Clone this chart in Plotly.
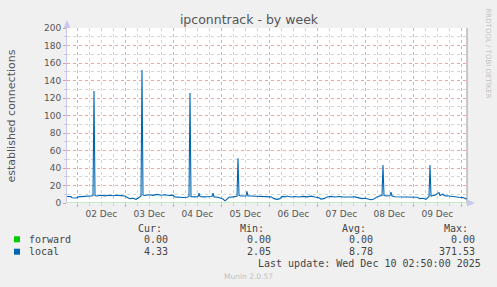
import pandas as pd
import plotly.graph_objects as go

# ---- data ----
start = pd.Timestamp("2025-12-01 18:50")
end = pd.Timestamp("2025-12-10 02:50")

local_hours = [0, 2, 2.5, 5, 5.5, 8.5, 9.5, 11.5, 12.5, 13, 13.5, 14, 15, 17, 19, 21, 23, 25, 27, 29,
               30, 31.5, 33, 34.5, 35.5, 36.5, 37, 37.5, 38, 39, 41, 43, 45, 47, 49, 51, 53,
               54, 56, 58, 60, 61, 61.5, 62, 64, 65.5, 66, 66.5, 68, 70, 72.5, 73, 73.5, 75.5, 77,
               78, 79, 80, 81, 83, 85, 85.5, 86, 87, 89.5, 90, 90.5, 92, 95, 99,
               102, 103.5, 105, 106.5, 107.5, 109, 110, 112, 114, 116, 118, 120, 122, 124, 126, 127,
               128.5, 130, 132, 134, 136, 138, 140, 142, 144, 146, 147.5, 149, 150.5, 152, 153.5,
               155, 156.5, 157.5, 158, 158.5, 160, 161.5, 162, 162.5, 164, 168, 172, 175, 176.5,
               178, 179.5, 180.5, 181, 181.5, 182, 183, 184, 186, 186.5, 188, 189, 190, 192, 194,
               196, 198, 200]
local_vals = [7.5, 7.3, 6.0, 5.8, 7.0, 7.2, 7.8, 7.4, 8.0, 8.2, 128, 8.5, 8.0, 8.8, 8.2, 8.9, 8.3, 8.8, 8.4, 8.0,
              6.5, 5.0, 5.5, 4.2, 5.5, 7.5, 8.0, 152, 9.0, 8.5, 9.5, 8.7, 9.8, 8.9, 9.4, 8.5, 9.0,
              7.0, 6.5, 6.3, 6.5, 7.5, 125.7, 7.2, 7.0, 7.5, 11.4, 7.5, 7.0, 7.6, 7.5, 11.4, 7.0, 6.5, 5.8,
              4.5, 2.5, 5.0, 6.5, 7.0, 7.8, 51, 8.8, 8.0, 8.0, 13.4, 8.0, 8.0, 7.8, 7.4,
              7.0, 5.0, 4.2, 5.0, 7.5, 7.0, 8.0, 6.8, 7.5, 6.8, 7.6, 7.0, 7.8, 6.8, 6.0, 4.5,
              5.0, 6.8, 7.6, 6.9, 7.5, 6.8, 7.2, 6.8, 7.0, 6.0, 5.0, 5.5, 4.5, 3.8, 4.5,
              7.0, 8.2, 8.5, 43.4, 8.5, 8.0, 8.5, 12.5, 8.0, 7.2, 6.8, 7.0, 6.5, 5.0,
              5.5, 4.2, 6.0, 7.5, 43.4, 8.0, 8.5, 9.0, 12.0, 8.5, 10.0, 8.0, 8.3, 7.5, 7.2,
              6.5, 6.2, 4.33]
forward_hours = [0, 200]
forward_vals = [0, 0]

day_labels = ["02 Dec", "03 Dec", "04 Dec", "05 Dec", "06 Dec", "07 Dec", "08 Dec", "09 Dec"]
day_noons = pd.date_range("2025-12-02 12:00", periods=len(day_labels), freq="D")

series_names = ["forward", "local"]
series_colors = ["#00CC00", "#0066B3"]
stat_headers = ["Cur:", "Min:", "Avg:", "Max:"]
stat_values = [["0.00", "0.00", "0.00", "0.00"],
               ["4.33", "2.05", "8.78", "371.53"]]
last_update = "Last update: Wed Dec 10 02:50:00 2025"

# ---- figure ----
W, H = 497, 287
L, R, T, B = 67, 467, 28, 203


def px(x):
    return (x - L) / (R - L)


def py(y):
    return (B - y) / (B - T)


local_t = [start + pd.Timedelta(hours=h) for h in local_hours]
forward_t = [start + pd.Timedelta(hours=h) for h in forward_hours]

fig = go.Figure()
fig.add_trace(go.Scatter(x=forward_t, y=forward_vals, mode="lines",
                         line=dict(color="rgba(0,175,0,0.45)", width=1.2), hoverinfo="skip"))
fig.add_trace(go.Scatter(x=local_t, y=local_vals, mode="lines",
                         line=dict(color=series_colors[1], width=1.1), hoverinfo="skip"))
# invisible trace for the label axis
fig.add_trace(go.Scatter(x=[start, end], y=[None, None], xaxis="x2", showlegend=False, hoverinfo="skip"))

red_grid = "rgba(225,90,90,0.55)"
gray_grid = "#d4d4d4"

fig.update_layout(
    width=W, height=H,
    margin=dict(l=L, r=W - R, t=T, b=H - B),
    paper_bgcolor="#F0F0F0", plot_bgcolor="#FFFFFF",
    showlegend=False,
    font=dict(family="DejaVu Sans", color="#555555", size=9),
    title=dict(text="ipconntrack - by week", x=249 / W, xanchor="center",
               y=1 - 19.5 / H, yanchor="middle", yref="container", xref="container",
               font=dict(family="DejaVu Sans", size=12.5, color="#555555")),
    xaxis=dict(type="date", range=[start, end], tickmode="linear",
               tick0="2025-12-02", dtick=86400000, showticklabels=False,
               showgrid=True, gridcolor=red_grid, griddash="dot", gridwidth=1,
               ticks="outside", ticklen=3, tickcolor=red_grid,
               minor=dict(tick0="2025-12-02", dtick=6 * 3600 * 1000, showgrid=True,
                          gridcolor=gray_grid, griddash="dot", gridwidth=1,
                          ticks="outside", ticklen=2, tickcolor="#cccccc"),
               showline=False, zeroline=False, fixedrange=True),
    xaxis2=dict(type="date", range=[start, end], overlaying="x", side="bottom",
                tickmode="array", tickvals=list(day_noons), ticktext=day_labels,
                showgrid=False, ticks="", showline=False, zeroline=False,
                tickfont=dict(size=9, color="#555555"), ticklabelstandoff=4),
    yaxis=dict(range=[0, 200], tickmode="linear", tick0=0, dtick=20,
               showgrid=True, gridcolor=red_grid, griddash="dot", gridwidth=1,
               ticks="outside", ticklen=3, tickcolor=red_grid,
               minor=dict(dtick=10, showgrid=True, gridcolor=gray_grid, griddash="dot",
                          gridwidth=1, ticks="outside", ticklen=2, tickcolor="#cccccc"),
               showline=True, linecolor="#C8C8F0", linewidth=1,
               zeroline=False, tickfont=dict(size=9, color="#555555"), fixedrange=True),
)

shapes = []
# right border line
shapes.append(dict(type="line", xref="paper", yref="paper", x0=1, x1=1, y0=0, y1=1,
                   line=dict(color="#999999", width=1)))
# axis arrows
shapes.append(dict(type="path", xref="paper", yref="paper",
                   path=f"M {px(63.5)} {py(28)} L {px(70.5)} {py(28)} L {px(67)} {py(20)} Z",
                   fillcolor="#C8C8F0", line=dict(width=0)))
shapes.append(dict(type="path", xref="paper", yref="paper",
                   path=f"M {px(467)} {py(199.5)} L {px(467)} {py(206.5)} L {px(475)} {py(203)} Z",
                   fillcolor="#C8C8F0", line=dict(width=0)))
# legend squares
row_y = [239.3, 251.7]
for c, ry in zip(series_colors, row_y):
    shapes.append(dict(type="rect", xref="paper", yref="paper",
                       x0=px(14), x1=px(20), y0=py(ry + 3), y1=py(ry - 3),
                       fillcolor=c, line=dict(width=0)))
fig.update_layout(shapes=shapes)

mono = dict(family="DejaVu Sans Mono", size=10, color="#444444")
ann = []
ann.append(dict(text="established connections", xref="paper", yref="paper",
                x=px(11), y=0.5, textangle=-90, showarrow=False,
                xanchor="center", yanchor="middle",
                font=dict(family="DejaVu Sans", size=11, color="#555555")))
ann.append(dict(text="RRDTOOL / TOBI OETIKER", xref="paper", yref="paper",
                x=px(487.5), y=py(53), textangle=90, showarrow=False,
                xanchor="center", yanchor="middle",
                font=dict(family="DejaVu Sans", size=7, color="#C4C4C4")))
head_right = [163.5, 266, 368, 470]
val_right = [169.5, 272.5, 374.5, 476.5]
for h, xr in zip(stat_headers, head_right):
    ann.append(dict(text=h, xref="paper", yref="paper", x=px(xr), y=py(228.3),
                    xanchor="right", yanchor="middle", showarrow=False, font=mono))
for name, vals, ry in zip(series_names, stat_values, row_y):
    ann.append(dict(text=name, xref="paper", yref="paper", x=px(26.5), y=py(ry),
                    xanchor="left", yanchor="middle", showarrow=False, font=mono))
    for v, xr in zip(vals, val_right):
        ann.append(dict(text=v, xref="paper", yref="paper", x=px(xr), y=py(ry),
                        xanchor="right", yanchor="middle", showarrow=False, font=mono))
ann.append(dict(text=last_update, xref="paper", yref="paper", x=px(482.5), y=py(263.3),
                xanchor="right", yanchor="middle", showarrow=False, font=mono))
ann.append(dict(text="Munin 2.0.57", xref="paper", yref="paper", x=px(248), y=py(276),
                xanchor="center", yanchor="middle", showarrow=False,
                font=dict(family="DejaVu Sans", size=7.5, color="#C0C0C0")))
fig.update_layout(annotations=ann)

fig.write_html("out.html", config=dict(displayModeBar=False, staticPlot=True))
